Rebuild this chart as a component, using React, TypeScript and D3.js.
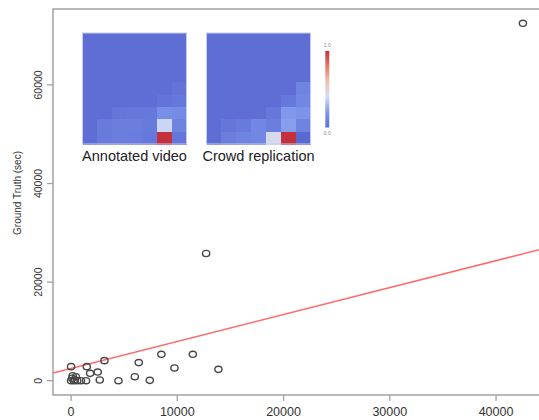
import React from "react";
import * as d3 from "d3";

// scatter: estimated time vs ground truth (sec)
const estimatedSec = [
  0, 1480, 3140, 1790, 2510, 2700, 1410, 4460, 6000, 6370, 7410, 8500, 9730,
  11460, 13870, 12710, 42530, 150, 450, 0, 270, 580, 930, 360, 100,
];
const groundTruthSec = [
  2850, 2850, 4070, 1490, 1760, 140, 0, 0, 815, 3670, 70, 5360, 2590, 5360,
  2300, 25800, 72500, 1020, 815, 0, 0, 0, 0, 200, 500,
];

// fitted line
const fitIntercept = 2470;
const fitSlope = 0.547;

const xTicks = [0, 10000, 20000, 30000, 40000];
const yTicks = [0, 20000, 40000, 60000];

// heatmaps, 9 rows x 7 cols, values 0..1
const annotatedGrid = [
  [0, 0, 0, 0, 0, 0, 0],
  [0, 0, 0, 0, 0, 0, 0],
  [0, 0, 0, 0, 0, 0, 0],
  [0, 0, 0, 0, 0, 0, 0],
  [0, 0, 0, 0, 0, 0, 0.03],
  [0, 0, 0, 0, 0, 0.03, 0.05],
  [0, 0, 0.04, 0.05, 0.05, 0.16, 0.14],
  [0, 0.06, 0.08, 0.08, 0.06, 0.38, 0.1],
  [0, 0.06, 0.08, 0.07, 0.05, 1.0, 0.04],
];
const crowdGrid = [
  [0, 0, 0, 0, 0, 0, 0],
  [0, 0, 0, 0, 0, 0, 0],
  [0, 0, 0, 0, 0, 0, 0],
  [0, 0, 0, 0, 0, 0, 0],
  [0, 0, 0, 0, 0, 0, 0.1],
  [0, 0, 0, 0, 0, 0.05, 0.12],
  [0, 0, 0, 0, 0.05, 0.2, 0.18],
  [0, 0.04, 0.06, 0.12, 0.08, 0.22, 0.1],
  [0, 0.08, 0.1, 0.12, 0.42, 1.0, -0.02],
];

const insetLabels = ["Annotated video", "Crowd replication"];

const W = 539;
const H = 420;
const FONT = '"Liberation Sans", Arial, sans-serif';

const heatColor = d3
  .scaleLinear<string>()
  .domain([-0.05, 0, 0.2, 0.4, 0.6, 0.8, 1])
  .range(["#5563cc", "#5e6ed5", "#7f97ec", "#d2ddf5", "#efc2ae", "#df7b68", "#c5303d"])
  .clamp(true);

const Heatmap = ({ grid, x, y, w, h, label }: any) => {
  const cols = d3.scaleBand<number>().domain(d3.range(grid[0].length)).range([x, x + w]);
  const rows = d3.scaleBand<number>().domain(d3.range(grid.length)).range([y, y + h]);
  return (
    <g>
      <g shapeRendering="crispEdges">
        {grid.map((row: number[], r: number) =>
          row.map((v, c) => (
            <rect
              key={`${r}-${c}`}
              x={cols(c)}
              y={rows(r)}
              width={cols.bandwidth() + 0.5}
              height={rows.bandwidth() + 0.5}
              fill={heatColor(v)}
            />
          ))
        )}
      </g>
      <rect x={x} y={y} width={w} height={h} fill="none" stroke="#c7cbef" strokeWidth={1} />
      <text
        x={x + w / 2}
        y={y + h + 17}
        textAnchor="middle"
        fontSize={14.5}
        fontFamily={FONT}
        fill="#222"
      >
        {label}
      </text>
    </g>
  );
};

export default function App() {
  const margin = { left: 53, top: 9, right: 541, bottom: 395 };

  const xPad = (d3.max(estimatedSec)! - d3.min(estimatedSec)!) * 0.04;
  const yPad = (d3.max(groundTruthSec)! - d3.min(groundTruthSec)!) * 0.04;

  const x = d3
    .scaleLinear()
    .domain([d3.min(estimatedSec)! - xPad, d3.max(estimatedSec)! + xPad])
    .range([margin.left, margin.right]);
  const y = d3
    .scaleLinear()
    .domain([d3.min(groundTruthSec)! - yPad, d3.max(groundTruthSec)! + yPad])
    .range([margin.bottom, margin.top]);

  const [x0, x1] = x.domain();
  const fitLine = d3
    .line<number>()
    .x((d) => x(d))
    .y((d) => y(fitIntercept + fitSlope * d))([x0, x1]);

  const barScale = d3.scaleLinear().domain([0, 1]).range([127.5, 51]);
  const stops = d3.range(0, 1.001, 0.1);

  const axisColor = "#a2a2a2";

  return (
    <div style={{ position: "absolute", left: 0, top: 0 }}>
      <svg width={W} height={H} style={{ display: "block", background: "#fff" }}>
        <defs>
          <clipPath id="plotClip">
            <rect
              x={margin.left}
              y={margin.top}
              width={margin.right - margin.left}
              height={margin.bottom - margin.top}
            />
          </clipPath>
          <linearGradient id="cbar" x1="0" y1="1" x2="0" y2="0">
            {stops.map((s) => (
              <stop key={s} offset={`${s * 100}%`} stopColor={heatColor(s)} />
            ))}
          </linearGradient>
        </defs>

        {/* box */}
        <rect
          x={margin.left}
          y={margin.top}
          width={margin.right - margin.left}
          height={margin.bottom - margin.top}
          fill="none"
          stroke={axisColor}
          strokeWidth={1.5}
        />

        {/* x axis */}
        {xTicks.map((t) => (
          <g key={t}>
            <line x1={x(t)} x2={x(t)} y1={margin.bottom} y2={margin.bottom + 6} stroke={axisColor} strokeWidth={1.3} />
            <text x={x(t)} y={416} textAnchor="middle" fontSize={12.5} fontFamily={FONT} fill="#333">
              {t}
            </text>
          </g>
        ))}

        {/* y axis */}
        {yTicks.map((t) => (
          <g key={t}>
            <line x1={margin.left - 6} x2={margin.left} y1={y(t)} y2={y(t)} stroke={axisColor} strokeWidth={1.3} />
            <text
              transform={`translate(42,${y(t)}) rotate(-90)`}
              textAnchor="middle"
              fontSize={10.5}
              fontFamily={FONT}
              fill="#333"
            >
              {t}
            </text>
          </g>
        ))}
        <text
          transform={`translate(21,193) rotate(-90)`}
          textAnchor="middle"
          fontSize={10}
          fontFamily={FONT}
          fill="#333"
        >
          Ground Truth (sec)
        </text>

        {/* regression line */}
        <path d={fitLine!} stroke="#ff6b6b" strokeWidth={1.5} fill="none" clipPath="url(#plotClip)" />

        {/* points */}
        <g fill="none" stroke="#474747" strokeWidth={1.4}>
          {estimatedSec.map((d, i) => (
            <ellipse key={i} cx={x(d)} cy={y(groundTruthSec[i])} rx={3.6} ry={3.1} />
          ))}
        </g>

        {/* insets */}
        <Heatmap grid={annotatedGrid} x={82.5} y={33} w={104} h={111} label={insetLabels[0]} />
        <Heatmap grid={crowdGrid} x={206.5} y={33} w={104} h={111} label={insetLabels[1]} />

        {/* colour bar */}
        <rect x={325.3} y={barScale(1)} width={4} height={barScale(0) - barScale(1)} fill="url(#cbar)" />
        {[1, 0].map((v) => (
          <text
            key={v}
            x={327.3}
            y={v === 1 ? barScale(v) - 4 : barScale(v) + 7}
            textAnchor="middle"
            fontSize={5}
            fontFamily={FONT}
            fill="#888"
          >
            {v.toFixed(1)}
          </text>
        ))}
      </svg>
    </div>
  );
}
